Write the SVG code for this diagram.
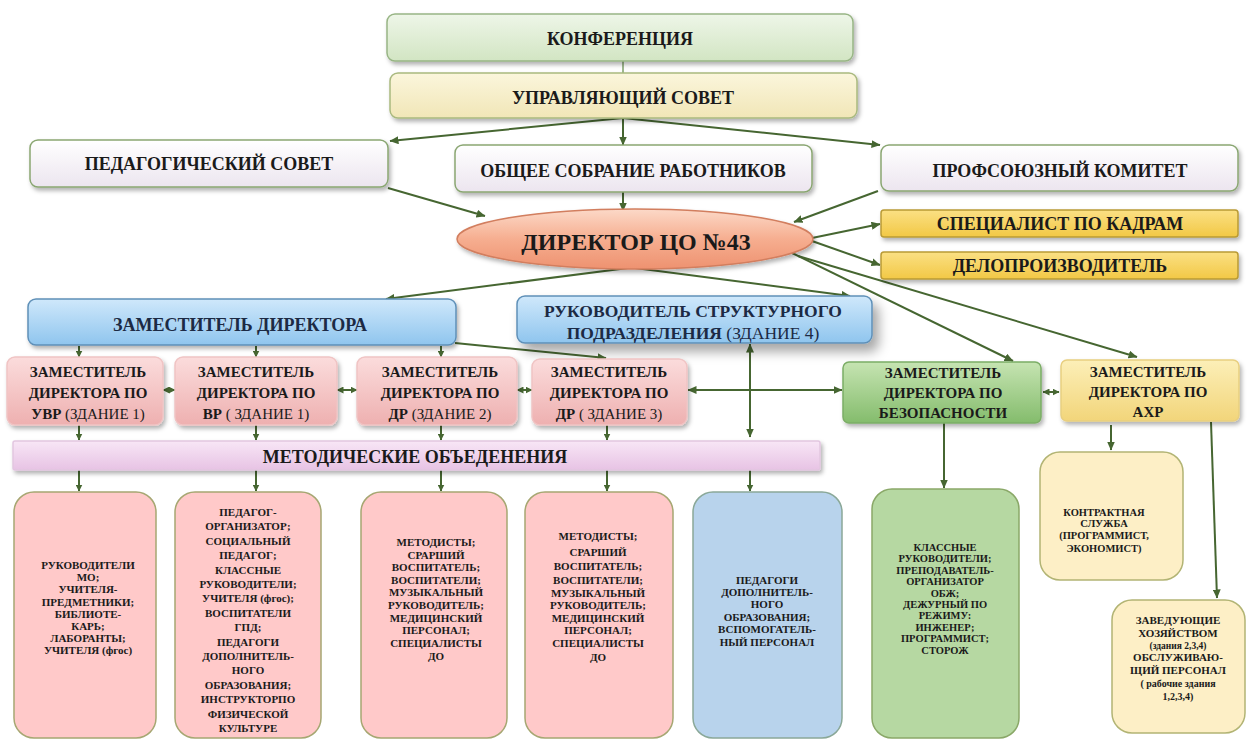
<svg xmlns="http://www.w3.org/2000/svg" width="1247" height="740" viewBox="0 0 1247 740">
<defs>
<linearGradient id="gGreen" x1="0" y1="0" x2="0" y2="1"><stop offset="0" stop-color="#eef6e8"/><stop offset="1" stop-color="#d2e5c3"/></linearGradient>
<linearGradient id="gYel" x1="0" y1="0" x2="0" y2="1"><stop offset="0" stop-color="#fbf6dc"/><stop offset="1" stop-color="#f1e6b7"/></linearGradient>
<linearGradient id="gWhite" x1="0" y1="0" x2="0" y2="1"><stop offset="0" stop-color="#ffffff"/><stop offset="1" stop-color="#ece5ef"/></linearGradient>
<linearGradient id="gDir" x1="0" y1="0" x2="0" y2="1"><stop offset="0" stop-color="#fcd9c8"/><stop offset="0.5" stop-color="#f6ae90"/><stop offset="1" stop-color="#ee9270"/></linearGradient>
<linearGradient id="gGold" x1="0" y1="0" x2="0" y2="1"><stop offset="0" stop-color="#fbe084"/><stop offset="1" stop-color="#f2c845"/></linearGradient>
<linearGradient id="gBlue" x1="0" y1="0" x2="0" y2="1"><stop offset="0" stop-color="#cfe8fb"/><stop offset="1" stop-color="#8fc5ee"/></linearGradient>
<linearGradient id="gPink" x1="0" y1="0" x2="0" y2="1"><stop offset="0" stop-color="#fbdcdc"/><stop offset="1" stop-color="#eeb0b0"/></linearGradient>
<linearGradient id="gSafe" x1="0" y1="0" x2="0" y2="1"><stop offset="0" stop-color="#c6e4b2"/><stop offset="1" stop-color="#84bc6c"/></linearGradient>
<linearGradient id="gAxr" x1="0" y1="0" x2="0" y2="1"><stop offset="0" stop-color="#fcefb8"/><stop offset="1" stop-color="#f2d57a"/></linearGradient>
<linearGradient id="gMet" x1="0" y1="0" x2="0" y2="1"><stop offset="0" stop-color="#f8e6f6"/><stop offset="1" stop-color="#e7c3e4"/></linearGradient>
<filter id="sh" x="-10%" y="-20%" width="125%" height="160%"><feDropShadow dx="2" dy="3" stdDeviation="2" flood-color="#000" flood-opacity="0.3"/></filter>
<filter id="shBig" x="-10%" y="-30%" width="130%" height="190%"><feDropShadow dx="6" dy="8" stdDeviation="6" flood-color="#000" flood-opacity="0.35"/></filter>
<marker id="ah" markerWidth="9" markerHeight="8" refX="8.5" refY="4" orient="auto-start-reverse" markerUnits="userSpaceOnUse"><path d="M0,0 L9,4 L0,8 z" fill="#466631"/></marker>
<marker id="ahs" markerWidth="7" markerHeight="7" refX="6.5" refY="3.5" orient="auto-start-reverse" markerUnits="userSpaceOnUse"><path d="M0,0 L7,3.5 L0,7 z" fill="#466631"/></marker>
<style>
.t{font-family:'Liberation Serif','Times New Roman',serif;font-weight:bold;fill:#1a1a1a;text-anchor:middle}
.top{font-size:18px}
.row{font-size:15px}
.sm{font-size:11px}
.n{font-weight:normal}
.c{stroke:#466631;stroke-width:2;fill:none}
.bx{stroke-width:1.5}
</style>
</defs>

<g id="connectors">
<line x1="623" y1="61" x2="623" y2="73" stroke="#7fa06a" stroke-width="1.5"/>
<line class="c" x1="623" y1="118" x2="390" y2="141" marker-end="url(#ah)"/>
<line class="c" x1="623" y1="118" x2="623" y2="145" marker-end="url(#ah)"/>
<line class="c" x1="623" y1="118" x2="880" y2="145" marker-end="url(#ah)"/>
<line class="c" x1="388" y1="188" x2="485" y2="216" marker-end="url(#ah)"/>
<line class="c" x1="623" y1="192" x2="623" y2="211" marker-end="url(#ah)"/>
<line class="c" x1="878" y1="191" x2="794" y2="222" marker-end="url(#ah)"/>
<line class="c" x1="812" y1="238" x2="880" y2="224" marker-end="url(#ah)"/>
<line class="c" x1="812" y1="241" x2="880" y2="265" marker-end="url(#ah)"/>
<line class="c" x1="790" y1="252" x2="1013" y2="361" marker-end="url(#ah)"/>
<line class="c" x1="798" y1="256" x2="1137" y2="357" marker-end="url(#ah)"/>
<line class="c" x1="628" y1="268" x2="386" y2="299" marker-end="url(#ah)"/>
<line class="c" x1="635" y1="268" x2="850" y2="296" marker-end="url(#ah)"/>
<line class="c" x1="79" y1="346" x2="79" y2="357" marker-end="url(#ahs)"/>
<line class="c" x1="256" y1="346" x2="256" y2="357" marker-end="url(#ahs)"/>
<line class="c" x1="441" y1="346" x2="441" y2="357" marker-end="url(#ahs)"/>
<line class="c" x1="455" y1="343" x2="606" y2="358" marker-end="url(#ah)"/>
<line class="c" x1="79" y1="425" x2="79" y2="440" marker-end="url(#ahs)"/>
<line class="c" x1="256" y1="425" x2="256" y2="440" marker-end="url(#ahs)"/>
<line class="c" x1="441" y1="425" x2="441" y2="440" marker-end="url(#ahs)"/>
<line class="c" x1="607" y1="425" x2="607" y2="440" marker-end="url(#ahs)"/>
<line class="c" x1="79" y1="470" x2="79" y2="491" marker-end="url(#ahs)"/>
<line class="c" x1="256" y1="470" x2="256" y2="491" marker-end="url(#ahs)"/>
<line class="c" x1="441" y1="470" x2="441" y2="491" marker-end="url(#ahs)"/>
<line class="c" x1="607" y1="470" x2="607" y2="491" marker-end="url(#ahs)"/>
<line class="c" x1="750" y1="470" x2="750" y2="491" marker-end="url(#ahs)"/>
<line class="c" x1="750" y1="344" x2="750" y2="437" marker-start="url(#ah)" marker-end="url(#ah)"/>
<line class="c" x1="688" y1="390" x2="842" y2="390" marker-start="url(#ah)" marker-end="url(#ah)"/>
<line class="c" x1="163" y1="390" x2="175" y2="390" marker-start="url(#ahs)" marker-end="url(#ahs)"/>
<line class="c" x1="337" y1="390" x2="357" y2="390" marker-start="url(#ahs)" marker-end="url(#ahs)"/>
<line class="c" x1="517" y1="390" x2="532" y2="390" marker-start="url(#ahs)" marker-end="url(#ahs)"/>
<line class="c" x1="1043" y1="392" x2="1059" y2="392" marker-start="url(#ahs)" marker-end="url(#ahs)"/>
<line class="c" x1="944" y1="422" x2="944" y2="488" marker-end="url(#ah)"/>
<line class="c" x1="1111" y1="425" x2="1111" y2="450" marker-end="url(#ah)"/>
<line class="c" x1="1211" y1="422" x2="1217" y2="598" marker-end="url(#ah)"/>
</g>

<g id="konferencia"><rect x="387" y="14" width="466" height="47" rx="8" fill="url(#gGreen)" stroke="#98b585" class="bx" filter="url(#sh)"/><text class="t top" x="620" y="45">КОНФЕРЕНЦИЯ</text></g>
<g id="upr-sovet"><rect x="390" y="73" width="467" height="45" rx="8" fill="url(#gYel)" stroke="#a9b97f" class="bx" filter="url(#sh)"/><text class="t top" x="623" y="104">УПРАВЛЯЮЩИЙ СОВЕТ</text></g>
<g id="ped-sovet"><rect x="30" y="140" width="358" height="47" rx="8" fill="url(#gWhite)" stroke="#8aa672" class="bx" filter="url(#sh)"/><text class="t top" x="209" y="170">ПЕДАГОГИЧЕСКИЙ СОВЕТ</text></g>
<g id="obshee"><rect x="455" y="145" width="357" height="47" rx="8" fill="url(#gWhite)" stroke="#8aa672" class="bx" filter="url(#sh)"/><text class="t top" x="633" y="177">ОБЩЕЕ СОБРАНИЕ РАБОТНИКОВ</text></g>
<g id="profsouz"><rect x="881" y="145" width="357" height="46" rx="8" fill="url(#gWhite)" stroke="#8aa672" class="bx" filter="url(#sh)"/><text class="t top" x="1060" y="177">ПРОФСОЮЗНЫЙ КОМИТЕТ</text></g>
<g id="director"><ellipse cx="635" cy="239" rx="178" ry="30" fill="url(#gDir)" stroke="#d27e5e" stroke-width="1.5" filter="url(#sh)"/><text class="t" x="636" y="250" font-size="24">ДИРЕКТОР ЦО №43</text></g>
<g id="kadry"><rect x="881" y="210" width="357" height="27" rx="3" fill="url(#gGold)" stroke="#b99a34" class="bx" filter="url(#sh)"/><text class="t top" x="1060" y="230">СПЕЦИАЛИСТ ПО КАДРАМ</text></g>
<g id="delo"><rect x="881" y="252" width="357" height="27" rx="3" fill="url(#gGold)" stroke="#b99a34" class="bx" filter="url(#sh)"/><text class="t top" x="1060" y="272">ДЕЛОПРОИЗВОДИТЕЛЬ</text></g>

<g id="zam-dir"><rect x="28" y="299" width="428" height="46" rx="8" fill="url(#gBlue)" stroke="#5f90b8" class="bx" filter="url(#sh)"/><text class="t top" x="240" y="331" style="fill:#1c2a44">ЗАМЕСТИТЕЛЬ  ДИРЕКТОРА</text></g>
<g id="ruk-str"><rect x="517" y="296" width="355" height="47" rx="8" fill="url(#gBlue)" stroke="#5f90b8" class="bx" filter="url(#shBig)"/><text class="t" x="693" y="317" font-size="17.5" style="fill:#1c2a44">РУКОВОДИТЕЛЬ СТРУКТУРНОГО</text><text class="t" x="693" y="339" font-size="17.5" style="fill:#1c2a44">ПОДРАЗДЕЛЕНИЯ<tspan class="n"> (ЗДАНИЕ 4)</tspan></text></g>

<g id="zam-uvr"><rect x="7" y="357" width="156" height="68" rx="8" fill="url(#gPink)" stroke="#f0c4c4" class="bx" filter="url(#sh)"/><text class="t row" x="88" y="377">ЗАМЕСТИТЕЛЬ</text><text class="t row" x="88" y="398">ДИРЕКТОРА  ПО</text><text class="t row" x="88" y="419">УВР<tspan class="n"> (ЗДАНИЕ  1)</tspan></text></g>
<g id="zam-vr"><rect x="175" y="357" width="162" height="68" rx="8" fill="url(#gPink)" stroke="#f0c4c4" class="bx" filter="url(#sh)"/><text class="t row" x="256" y="377">ЗАМЕСТИТЕЛЬ</text><text class="t row" x="256" y="398">ДИРЕКТОРА  ПО</text><text class="t row" x="256" y="419">ВР<tspan class="n"> ( ЗДАНИЕ  1)</tspan></text></g>
<g id="zam-dr2"><rect x="357" y="357" width="160" height="68" rx="8" fill="url(#gPink)" stroke="#f0c4c4" class="bx" filter="url(#sh)"/><text class="t row" x="440" y="377">ЗАМЕСТИТЕЛЬ</text><text class="t row" x="440" y="398">ДИРЕКТОРА  ПО</text><text class="t row" x="440" y="419">ДР<tspan class="n"> (ЗДАНИЕ  2)</tspan></text></g>
<g id="zam-dr3"><rect x="532" y="359" width="155" height="66" rx="8" fill="url(#gPink)" stroke="#f0c4c4" class="bx" filter="url(#sh)"/><text class="t row" x="609" y="377">ЗАМЕСТИТЕЛЬ</text><text class="t row" x="609" y="398">ДИРЕКТОРА  ПО</text><text class="t row" x="609" y="419">ДР<tspan class="n"> ( ЗДАНИЕ  3)</tspan></text></g>
<g id="zam-bez"><rect x="843" y="362" width="198" height="61" rx="6" fill="url(#gSafe)" stroke="#7bad66" class="bx" filter="url(#sh)"/><text class="t row" x="943" y="378">ЗАМЕСТИТЕЛЬ</text><text class="t row" x="943" y="398">ДИРЕКТОРА  ПО</text><text class="t row" x="943" y="418">БЕЗОПАСНОСТИ</text></g>
<g id="zam-axr"><rect x="1061" y="360" width="178" height="61" rx="6" fill="url(#gAxr)" stroke="#e8cf80" class="bx" filter="url(#sh)"/><text class="t row" x="1148" y="377">ЗАМЕСТИТЕЛЬ</text><text class="t row" x="1148" y="397">ДИРЕКТОРА  ПО</text><text class="t row" x="1148" y="417">АХР</text></g>
<g id="metod"><rect x="13" y="441" width="807" height="29" rx="2" fill="url(#gMet)" stroke="#e2c6e0" class="bx" filter="url(#sh)"/><text class="t top" x="415" y="463">МЕТОДИЧЕСКИЕ ОБЪЕДЕНЕНИЯ</text></g>

<g id="box-uvr"><rect x="14" y="492" width="142" height="246" rx="20" fill="#ffc9c9" stroke="#a6a772" class="bx"/>
<text class="t sm" x="88" y="569">РУКОВОДИТЕЛИ</text><text class="t sm" x="88" y="581">МО;</text><text class="t sm" x="88" y="593">УЧИТЕЛЯ-</text><text class="t sm" x="88" y="606">ПРЕДМЕТНИКИ;</text><text class="t sm" x="88" y="618">БИБЛИОТЕ-</text><text class="t sm" x="88" y="630">КАРЬ;</text><text class="t sm" x="88" y="642">ЛАБОРАНТЫ;</text><text class="t sm" x="88" y="654">УЧИТЕЛЯ (фгос)</text></g>
<g id="box-vr"><rect x="175" y="492" width="146" height="246" rx="20" fill="#ffc9c9" stroke="#a6a772" class="bx"/>
<text class="t sm" x="248" y="516">ПЕДАГОГ-</text><text class="t sm" x="248" y="530">ОРГАНИЗАТОР;</text><text class="t sm" x="248" y="545">СОЦИАЛЬНЫЙ</text><text class="t sm" x="248" y="559">ПЕДАГОГ;</text><text class="t sm" x="248" y="574">КЛАССНЫЕ</text><text class="t sm" x="248" y="588">РУКОВОДИТЕЛИ;</text><text class="t sm" x="248" y="602">УЧИТЕЛЯ (фгос);</text><text class="t sm" x="248" y="617">ВОСПИТАТЕЛИ</text><text class="t sm" x="248" y="631">ГПД;</text><text class="t sm" x="248" y="646">ПЕДАГОГИ</text><text class="t sm" x="248" y="660">ДОПОЛНИТЕЛЬ-</text><text class="t sm" x="248" y="674">НОГО</text><text class="t sm" x="248" y="689">ОБРАЗОВАНИЯ;</text><text class="t sm" x="248" y="703">ИНСТРУКТОРПО</text><text class="t sm" x="248" y="718">ФИЗИЧЕСКОЙ</text><text class="t sm" x="248" y="732">КУЛЬТУРЕ</text></g>
<g id="box-dr2"><rect x="361" y="492" width="146" height="246" rx="20" fill="#ffc9c9" stroke="#a6a772" class="bx"/>
<text class="t sm" x="436" y="546">МЕТОДИСТЫ;</text><text class="t sm" x="436" y="559">СРАРШИЙ</text><text class="t sm" x="436" y="571">ВОСПИТАТЕЛЬ;</text><text class="t sm" x="436" y="584">ВОСПИТАТЕЛИ;</text><text class="t sm" x="436" y="596">МУЗЫКАЛЬНЫЙ</text><text class="t sm" x="436" y="609">РУКОВОДИТЕЛЬ;</text><text class="t sm" x="436" y="622">МЕДИЦИНСКИЙ</text><text class="t sm" x="436" y="634">ПЕРСОНАЛ;</text><text class="t sm" x="436" y="647">СПЕЦИАЛИСТЫ</text><text class="t sm" x="436" y="660">ДО</text></g>
<g id="box-dr3"><rect x="525" y="492" width="148" height="246" rx="20" fill="#ffc9c9" stroke="#a6a772" class="bx"/>
<text class="t sm" x="598" y="540">МЕТОДИСТЫ;</text><text class="t sm" x="598" y="556">СРАРШИЙ</text><text class="t sm" x="598" y="570">ВОСПИТАТЕЛЬ;</text><text class="t sm" x="598" y="584">ВОСПИТАТЕЛИ;</text><text class="t sm" x="598" y="597">МУЗЫКАЛЬНЫЙ</text><text class="t sm" x="598" y="609">РУКОВОДИТЕЛЬ;</text><text class="t sm" x="598" y="622">МЕДИЦИНСКИЙ</text><text class="t sm" x="598" y="634">ПЕРСОНАЛ;</text><text class="t sm" x="598" y="647">СПЕЦИАЛИСТЫ</text><text class="t sm" x="598" y="661">ДО</text></g>
<g id="box-dop"><rect x="693" y="492" width="149" height="246" rx="20" fill="#b8d3ec" stroke="#8aa898" class="bx"/>
<text class="t sm" x="767" y="584">ПЕДАГОГИ</text><text class="t sm" x="767" y="596">ДОПОЛНИТЕЛЬ-</text><text class="t sm" x="767" y="608">НОГО</text><text class="t sm" x="767" y="621">ОБРАЗОВАНИЯ;</text><text class="t sm" x="767" y="633">ВСПОМОГАТЕЛЬ-</text><text class="t sm" x="767" y="646">НЫЙ ПЕРСОНАЛ</text></g>
<g id="box-bez"><rect x="872" y="489" width="147" height="249" rx="20" fill="#b6d8a2" stroke="#8aa868" class="bx"/>
<text class="t" font-size="10.5" x="945" y="551">КЛАССНЫЕ</text><text class="t" font-size="10.5" x="945" y="562">РУКОВОДИТЕЛИ;</text><text class="t" font-size="10.5" x="945" y="574">ПРЕПОДАВАТЕЛЬ-</text><text class="t" font-size="10.5" x="945" y="585">ОРГАНИЗАТОР</text><text class="t" font-size="10.5" x="945" y="597">ОБЖ;</text><text class="t" font-size="10.5" x="945" y="608">ДЕЖУРНЫЙ ПО</text><text class="t" font-size="10.5" x="945" y="619">РЕЖИМУ:</text><text class="t" font-size="10.5" x="945" y="631">ИНЖЕНЕР;</text><text class="t" font-size="10.5" x="945" y="642">ПРОГРАММИСТ;</text><text class="t" font-size="10.5" x="945" y="654">СТОРОЖ</text></g>
<g id="box-kontr"><rect x="1040" y="452" width="143" height="128" rx="20" fill="#fdefc6" stroke="#b2b474" class="bx"/>
<text class="t" font-size="10.5" x="1104" y="516">КОНТРАКТНАЯ</text><text class="t" font-size="10.5" x="1104" y="527">СЛУЖБА</text><text class="t" font-size="10.5" x="1104" y="539">(ПРОГРАММИСТ,</text><text class="t" font-size="10.5" x="1104" y="552">ЭКОНОМИСТ)</text></g>
<g id="box-zav"><rect x="1112" y="600" width="133" height="133" rx="20" fill="#fdefc6" stroke="#b2b474" class="bx"/>
<text class="t" font-size="11" x="1178" y="624">ЗАВЕДУЮЩИЕ</text><text class="t" font-size="11" x="1178" y="637">ХОЗЯЙСТВОМ</text><text class="t" font-size="9.5" x="1178" y="649">(здания 2,3,4)</text><text class="t" font-size="11" x="1178" y="661">ОБСЛУЖИВАЮ-</text><text class="t" font-size="11" x="1178" y="674">ЩИЙ  ПЕРСОНАЛ</text><text class="t" font-size="10" x="1178" y="687">( рабочие здания</text><text class="t" font-size="10" x="1178" y="700">1,2,3,4)</text></g>
</svg>
